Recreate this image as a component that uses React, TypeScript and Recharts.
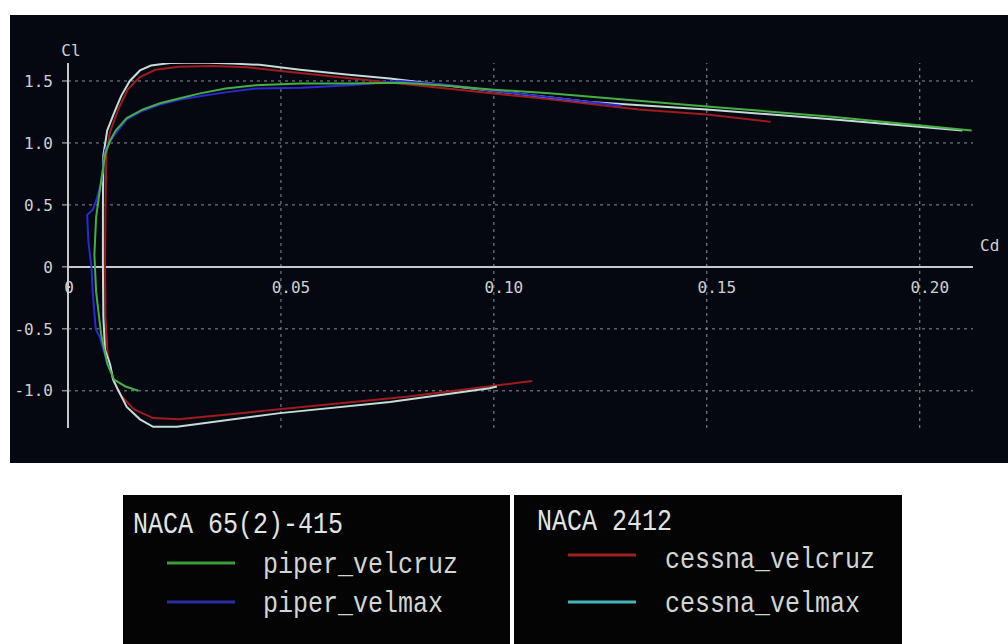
import { LineChart, Line, XAxis, YAxis, ReferenceLine, ReferenceDot } from "recharts";

// axis setup
const cdDomain: [number, number] = [0, 0.2125];
const clDomain: [number, number] = [-1.3, 1.645];
const cdTicks = [0, 0.05, 0.1, 0.15, 0.2];
const cdTickLabels = ["0", "0.05", "0.10", "0.15", "0.20"];
const clTicks = [-1.0, -0.5, 0, 0.5, 1.0, 1.5];
const clTickLabels = ["-1.0", "-0.5", "0", "0.5", "1.0", "1.5"];

// drag polars, [Cd, Cl] in traversal order
const piperVelcruz: [number, number][] = [
  [0.0165, -1.0], [0.0135, -0.965], [0.0108, -0.91], [0.0092, -0.78], [0.0078, -0.55],
  [0.0066, -0.2], [0.0062, 0.1], [0.0066, 0.4], [0.0078, 0.7], [0.0088, 0.92],
  [0.0099, 1.02], [0.0112, 1.1], [0.0138, 1.2], [0.0176, 1.27], [0.0216, 1.32],
  [0.0263, 1.36], [0.031, 1.4], [0.037, 1.44], [0.044, 1.465], [0.0545, 1.48],
  [0.066, 1.48], [0.078, 1.485], [0.09, 1.46], [0.1, 1.43], [0.113, 1.4],
  [0.134, 1.34], [0.15, 1.295], [0.18, 1.21], [0.2122, 1.1],
];

const piperVelmax: [number, number][] = [
  [0.0095, -0.8], [0.0084, -0.68], [0.0075, -0.57], [0.0065, -0.5], [0.0058, -0.2],
  [0.0055, 0], [0.0048, 0.2], [0.0045, 0.42], [0.0058, 0.46], [0.0065, 0.52],
  [0.0078, 0.68], [0.0087, 0.94], [0.0106, 1.05], [0.0138, 1.19], [0.0176, 1.26],
  [0.0216, 1.31], [0.0263, 1.35], [0.0317, 1.38], [0.0373, 1.41], [0.0444, 1.44],
  [0.055, 1.445], [0.066, 1.465], [0.078, 1.5], [0.09, 1.465], [0.1, 1.42],
  [0.115, 1.36], [0.13, 1.3],
];

const cessnaVelcruz: [number, number][] = [
  [0.109, -0.92], [0.1, -0.96], [0.08, -1.045], [0.055, -1.13], [0.035, -1.2],
  [0.026, -1.23], [0.02, -1.22], [0.0155, -1.15], [0.0125, -1.04], [0.0105, -0.9],
  [0.0093, -0.7], [0.0088, -0.4], [0.0087, 0], [0.0088, 0.5], [0.009, 0.9],
  [0.0098, 1.08], [0.0118, 1.27], [0.014, 1.43], [0.0168, 1.53], [0.0205, 1.59],
  [0.026, 1.615], [0.034, 1.62], [0.042, 1.61], [0.05, 1.58], [0.06, 1.545],
  [0.075, 1.49], [0.09, 1.435], [0.111, 1.36], [0.134, 1.27], [0.15, 1.23],
  [0.165, 1.17],
];

const cessnaVelmax: [number, number][] = [
  [0.1007, -0.965], [0.099, -0.98], [0.0756, -1.09], [0.0498, -1.18], [0.0256, -1.29],
  [0.02, -1.29], [0.0169, -1.23], [0.0138, -1.13], [0.0117, -0.99], [0.0106, -0.91],
  [0.0099, -0.79], [0.0087, -0.67], [0.0083, -0.4], [0.0082, 0], [0.0082, 0.5],
  [0.0083, 0.9], [0.0092, 1.1], [0.0108, 1.24], [0.0125, 1.38], [0.0145, 1.5],
  [0.0169, 1.585], [0.0195, 1.625], [0.024, 1.645], [0.031, 1.65], [0.0387, 1.64],
  [0.045, 1.63], [0.0545, 1.59], [0.066, 1.55], [0.0756, 1.52], [0.09, 1.46],
  [0.1, 1.42], [0.1225, 1.33], [0.15, 1.27], [0.18, 1.19], [0.21, 1.1],
];

const toRows = (pts: [number, number][]) => pts.map(([cd, cl]) => ({ cd, cl }));

const series = [
  { name: "cessna_velcruz", pts: cessnaVelcruz, color: "#a01c1c", key: "#a02020" },
  { name: "cessna_velmax", pts: cessnaVelmax, color: "#c4dcd8", key: "#44b4bc" },
  { name: "piper_velmax", pts: piperVelmax, color: "#2a2ad0", key: "#2c2ca8" },
  { name: "piper_velcruz", pts: piperVelcruz, color: "#44b044", key: "#3c9c3c" },
];

const legendGroups = [
  { title: "NACA 65(2)-415", items: ["piper_velcruz", "piper_velmax"] },
  { title: "NACA 2412", items: ["cessna_velcruz", "cessna_velmax"] },
];

const axisColor = "#c8c8c8";
const gridColor = "#8a909c";
const tickFont = { fill: "#d0d0d0", fontSize: 16, fontFamily: "DejaVu Sans Mono" };
const legendFont = "Liberation Mono";

function LegendText({ x, y, text, fill }: { x: number; y: number; text: string; fill: string }) {
  return (
    <text transform={`translate(${x} ${y}) scale(1 1.15)`} fill={fill} fontSize={25} fontFamily={legendFont}>
      {text}
    </text>
  );
}

export default function App() {
  const colorOf = (name: string) => series.find((s) => s.name === name)!.key;
  // left and right legend panels
  const panels = [
    { x: 123, w: 387, titleX: 133, titleY: 53, lineX: 167, textX: 263, rows: [83, 122], textRows: [93, 132] },
    { x: 514, w: 388, titleX: 537, titleY: 50, lineX: 568, textX: 665, rows: [75, 122], textRows: [88, 132] },
  ];

  return (
    <div style={{ position: "absolute", left: 0, top: 0, width: 1008, height: 644, background: "#ffffff", overflow: "hidden" }}>
      <div style={{ position: "absolute", left: 10, top: 15, width: 998, height: 448, background: "#050811" }}>
        <LineChart width={998} height={448} margin={{ top: 48, right: 35, left: 0, bottom: 0 }}>
          <XAxis
            type="number"
            dataKey="cd"
            domain={cdDomain}
            ticks={cdTicks}
            allowDataOverflow
            tick={false}
            axisLine={false}
            tickLine={false}
            height={35}
          />
          <YAxis
            type="number"
            dataKey="cl"
            domain={clDomain}
            ticks={clTicks}
            allowDataOverflow
            width={58}
            axisLine={{ stroke: axisColor, strokeWidth: 2 }}
            tickLine={{ stroke: axisColor }}
            tickSize={6}
            tickMargin={9}
            tick={tickFont}
            tickFormatter={(v: number) => clTickLabels[clTicks.indexOf(v)] ?? String(v)}
          />
          {/* dashed grid at the tick values, axes drawn solid through zero */}
          {clTicks.filter((t) => t !== 0).map((t) => (
            <ReferenceLine key={`h${t}`} y={t} stroke={gridColor} strokeDasharray="3 4" />
          ))}
          {cdTicks.filter((t) => t !== 0).map((t) => (
            <ReferenceLine key={`v${t}`} x={t} stroke={gridColor} strokeDasharray="3 4" />
          ))}
          <ReferenceLine y={0} stroke={axisColor} strokeWidth={2} />
          {series.map((s) => (
            <Line
              key={s.name}
              name={s.name}
              data={toRows(s.pts)}
              dataKey="cl"
              type="linear"
              stroke={s.color}
              strokeWidth={2}
              dot={false}
              isAnimationActive={false}
            />
          ))}
          {cdTicks.map((t, i) => (
            <ReferenceDot
              key={t}
              x={t}
              y={0}
              r={1}
              fill="none"
              stroke="none"
              label={{
                value: cdTickLabels[i],
                position: "bottom",
                offset: 14,
                dx: i === 0 ? 1 : 10,
                ...tickFont,
              }}
            />
          ))}
          <ReferenceDot
            x={0}
            y={clDomain[1]}
            r={1}
            fill="none"
            stroke="none"
            label={{ value: "Cl", position: "top", offset: 6, dx: 3, ...tickFont }}
          />
          <ReferenceDot
            x={cdDomain[1]}
            y={0}
            r={1}
            fill="none"
            stroke="none"
            label={{ value: "Cd", position: "right", offset: 6, dy: -22, ...tickFont }}
          />
        </LineChart>
      </div>

      <svg style={{ position: "absolute", left: 0, top: 480 }} width={1008} height={164}>
        {legendGroups.map((g, gi) => {
          const p = panels[gi];
          return (
            <g key={g.title}>
              <rect x={p.x} y={15} width={p.w} height={149} fill="#040404" />
              <LegendText x={p.titleX} y={p.titleY} text={g.title} fill="#e2e4e0" />
              {g.items.map((name, ii) => (
                <g key={name}>
                  <line x1={p.lineX} x2={p.lineX + 68} y1={p.rows[ii]} y2={p.rows[ii]} stroke={colorOf(name)} strokeWidth={3} />
                  <LegendText x={p.textX} y={p.textRows[ii]} text={name} fill="#d2d6d2" />
                </g>
              ))}
            </g>
          );
        })}
      </svg>
    </div>
  );
}
